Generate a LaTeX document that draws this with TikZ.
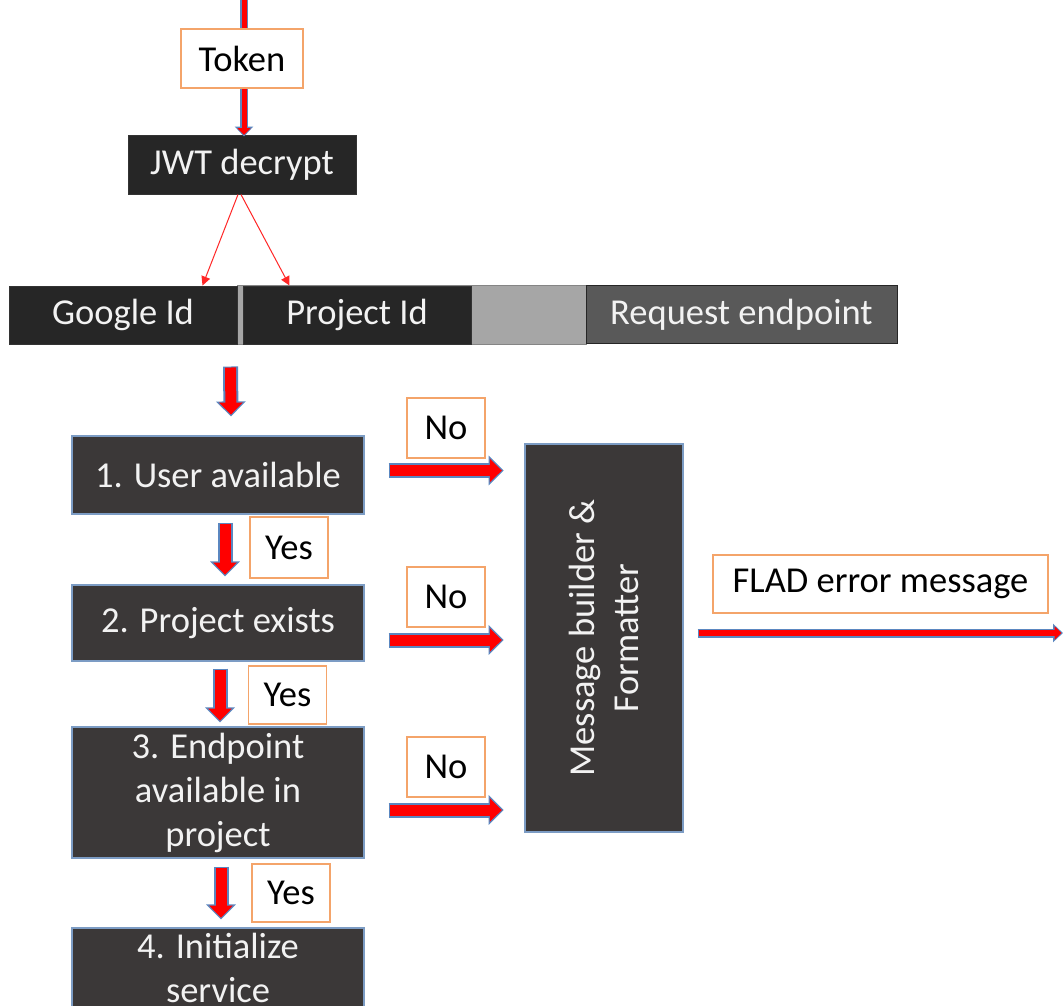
\documentclass[tikz,border=0pt]{standalone}
\usepackage{fontspec}
\setmainfont{Carlito}
\usetikzlibrary{arrows.meta,calc}
\definecolor{boxdark}{HTML}{3B3838}
\definecolor{boxblack}{HTML}{262626}
\definecolor{reqgrey}{HTML}{595959}
\definecolor{padgrey}{HTML}{A6A6A6}
\definecolor{edgeblue}{HTML}{7C9CC4}
\definecolor{lblorange}{HTML}{F4A46A}
\definecolor{arrred}{HTML}{FF0000}
\definecolor{arrblue}{HTML}{5B87C0}
\definecolor{txtwhite}{HTML}{F2F2F2}
\begin{document}
\begin{tikzpicture}[x=1pt,y=-1pt,
  every node/.style={font=\fontsize{36.5}{44}\selectfont, inner sep=0pt, align=center},
  darkbox/.style={draw=edgeblue, line width=1.2pt, fill=boxdark, text=txtwhite},
  blackbox/.style={draw=black!80, line width=1pt, fill=boxblack, text=txtwhite},
  lbl/.style={draw=lblorange, line width=1.5pt, fill=white, text=black},
  blockarr/.style={draw=arrblue, line width=15pt, -{Triangle[length=15pt,width=29pt]},
    postaction={draw=arrred, line width=11pt, -{Triangle[length=12pt,width=23pt]}, shorten >=1.8pt, shorten <=1pt}},
  thinblock/.style={draw=arrblue, line width=8pt, -{Triangle[length=10pt,width=18pt]},
    postaction={draw=arrred, line width=5pt, -{Triangle[length=7pt,width=13pt]}, shorten >=1.5pt}},
  flatarr/.style={draw=arrblue, line width=9pt, -{Triangle[length=10pt,width=18pt]},
    postaction={draw=arrred, line width=6pt, -{Triangle[length=7pt,width=13pt]}, shorten >=1.5pt, shorten <=1pt}},
  thinred/.style={draw=arrred!85!white, line width=1pt, -{Triangle[length=9pt,width=9pt]}}
]
\fill[white] (0,0) rectangle (1063,1005);
\useasboundingbox (0,0) rectangle (1063,1005);

% top
\node[blackbox, minimum width=228pt, minimum height=59pt] (jwt) at (242,164.5) {JWT decrypt};
\coordinate (src) at (244,0);
\draw[thinblock] (src) -- ($(jwt.north -| src)+(0,2)$);
\node[lbl, minimum width=122pt, minimum height=59pt] (token) at (242,58.5) {Token};

% bar
\node[fill=padgrey, draw=padgrey!80!black, line width=0.6pt, minimum width=349pt, minimum height=59pt] (pad) at (411.5,315) {};
\node[blackbox, minimum width=228pt, minimum height=58pt] (gid) at (123,315) {Google Id};
\node[blackbox, minimum width=228pt, minimum height=58pt] (pid) at (357,315) {Project Id};
\node[draw=black!85, line width=1pt, fill=reqgrey, text=txtwhite, minimum width=311pt, minimum height=58pt] (req) at (741.5,314.5) {Request endpoint};

\draw[thinred] ($(jwt.south)+(-4,0)$) -- ($(gid.north east)+(-35,0)$);
\draw[thinred] ($(jwt.south)+(-1,0)$) -- ($(pid.north west)+(47,0)$);

% steps
\node[darkbox, minimum width=292pt, minimum height=78pt] (b1) at (218,475) {1. User available};
\node[darkbox, minimum width=292pt, minimum height=76pt] (b2) at (218,623) {2. Project exists};
\node[darkbox, minimum width=292pt, minimum height=131pt] (b3) at (218,792.5) {3. Endpoint\\available in\\project};
\node[darkbox, minimum width=292pt, minimum height=80pt] (b4) at (218,968) {4. Initialize\\service};

\node[darkbox, rotate=90, minimum width=388pt, minimum height=158pt] (msg) at (604,638) {Message builder \&\\Formatter};

% down arrows
\draw[blockarr] ($(gid.south east)+(-7,22)$) -- ($(b1.north)+(13,-19)$);
\draw[blockarr] ($(b1.south)+(7,8)$) -- ($(b2.north)+(7,-8)$);
\draw[blockarr] ($(b2.south)+(2,7)$) -- ($(b3.north)+(2,-4)$);
\draw[blockarr] ($(b3.south)+(3,8)$) -- ($(b4.north)+(3,-8)$);

\node[lbl, minimum width=78pt, minimum height=61pt] (y1) at (289,547.5) {Yes};
\node[lbl, minimum width=78pt, minimum height=58pt] (y2) at (287.5,695) {Yes};
\node[lbl, minimum width=78pt, minimum height=58pt] (y3) at (291,893) {Yes};

% right arrows
\draw[blockarr] ($(b1.east)+(24,-4.5)$) -- ++(115,0);
\draw[blockarr] ($(b2.east)+(24,17)$) -- ++(115,0);
\draw[blockarr] ($(b3.east)+(24,17.5)$) -- ++(115,0);

\node[lbl, minimum width=78pt, minimum height=60pt] (n1) at (446,428) {No};
\node[lbl, minimum width=78pt, minimum height=60pt] (n2) at (446,597) {No};
\node[lbl, minimum width=78pt, minimum height=60pt] (n3) at (446,767) {No};

% output
\coordinate (outend) at (1063,633);
\draw[flatarr] ($(msg.south |- outend)+(14,0)$) -- (outend);
\node[lbl, minimum width=335pt, minimum height=58pt] (flad) at (880.5,584) {FLAD error message};
\end{tikzpicture}
\end{document}
